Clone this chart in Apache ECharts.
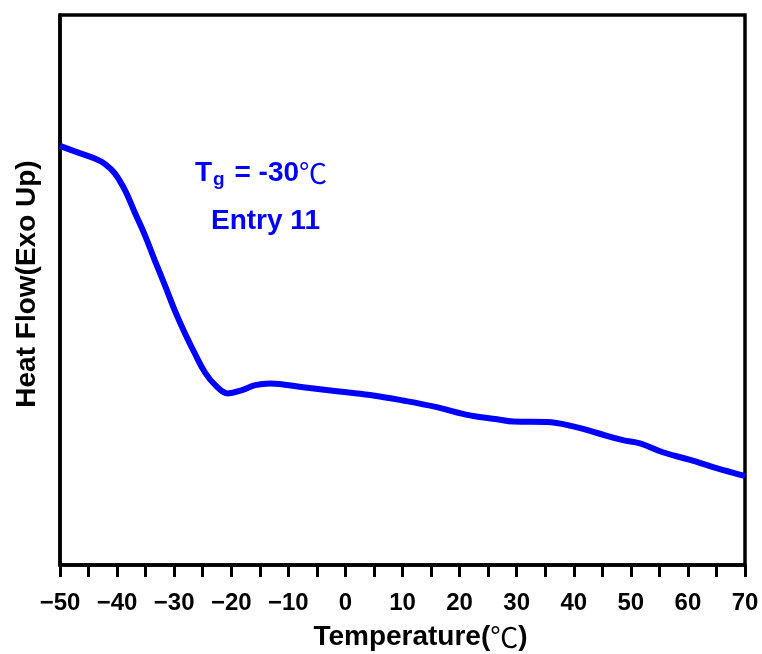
<!DOCTYPE html>
<html>
<head>
<meta charset="utf-8">
<script src="https://cdn.jsdelivr.net/npm/echarts@6/dist/echarts.min.js"></script>
<style>html,body{margin:0;padding:0;background:#fff}#c{width:762px;height:654px}</style>
</head>
<body>
<div id="c"></div>
<script>
const temperature = [-50, -47.4, -43.9, -42.1, -40.4, -38.6, -36.9, -35.1, -33.4, -31.6, -29.9, -28.1, -26.4, -24.6, -22.8, -20.6, -18.1, -15.8, -13.2, -7.4, -1.5, 4.3, 10.1, 16.0, 21.8, 26.6, 29.4, 35.3, 39.9, 44.1, 48.6, 51.6, 55.6, 60.4, 64.4, 69.6, 70];
const heatFlow = [76.2, 75.2, 73.9, 72.9, 71.2, 68.1, 64.1, 59.9, 55.4, 50.8, 46.3, 42.1, 38.5, 35.0, 32.7, 31.2, 31.8, 32.7, 33.0, 32.3, 31.6, 30.9, 29.9, 28.7, 27.2, 26.5, 26.1, 26.0, 25.2, 24.0, 22.7, 22.1, 20.5, 19.1, 17.8, 16.3, 16.2];
const xTicks = [-50, -40, -30, -20, -10, 0, 10, 20, 30, 40, 50, 60, 70];

const chart = echarts.init(document.getElementById('c'));
const font = '"Liberation Sans", Arial, sans-serif';
chart.setOption({
  animation: false,
  grid: { left: 60, right: 17, top: 15, bottom: 89, containLabel: false, outerBoundsMode: 'none',
          show: true, borderColor: '#000', borderWidth: 3.5, backgroundColor: 'transparent' },
  xAxis: {
    type: 'value', min: -50, max: 70, interval: 10, position: 'bottom',
    axisLine: { show: true, onZero: false, lineStyle: { color: '#000', width: 3.5 } },
    axisTick: { show: true, inside: false, length: 12, lineStyle: { color: '#000', width: 3 } },
    minorTick: { show: true, splitNumber: 2, length: 12, lineStyle: { color: '#000', width: 3 } },
    splitLine: { show: false },
    axisLabel: {
      margin: 26, color: '#000', fontSize: 24, fontWeight: 'bold', fontFamily: font,
      formatter: v => xTicks.includes(v) ? (v < 0 ? '\u2212' + Math.abs(v) : String(v)) : ''
    },
    name: '{b|Temperature(}{n|℃}{b|)}',
    nameLocation: 'middle', nameGap: 58,
    nameTextStyle: {
      padding: [0, 0, 0, 36],
      rich: {
        b: { fontSize: 28, fontWeight: 'bold', fontFamily: font, color: '#000' },
        n: { fontSize: 28, fontWeight: 'normal', fontFamily: '"Noto Sans CJK SC", sans-serif', color: '#000' }
      }
    }
  },
  yAxis: {
    type: 'value', min: 0, max: 100, position: 'left',
    axisLine: { show: true, onZero: false, lineStyle: { color: '#000', width: 3.5 } },
    axisTick: { show: false }, axisLabel: { show: false }, splitLine: { show: false },
    name: 'Heat Flow(Exo Up)', nameLocation: 'middle', nameGap: 19, nameRotate: 90,
    nameTextStyle: { fontSize: 28, fontWeight: 'bold', fontFamily: font, color: '#000', padding: [0, 0, 0, 12] }
  },
  series: [{
    type: 'line', smooth: 0.4, symbol: 'none',
    data: temperature.map((t, i) => [t, heatFlow[i]]),
    lineStyle: { color: '#0000ff', width: 6 }
  }],
  graphic: [
    {
      type: 'text', left: 195, top: 159,
      style: {
        text: '{b|T}{s|g}{b| = -30}{n|℃}',
        rich: {
          b: { fontSize: 28, fontWeight: 'bold', fontFamily: font, fill: '#0000ff' },
          s: { fontSize: 19, fontWeight: 'bold', fontFamily: font, fill: '#0000ff', padding: [14, 2, 0, 1] },
          n: { fontSize: 28, fontWeight: 'normal', fontFamily: '"Noto Sans CJK SC", sans-serif', fill: '#0000ff' }
        }
      }
    },
    {
      type: 'text', left: 211, top: 207,
      style: { text: 'Entry 11', fontSize: 28, fontWeight: 'bold', fontFamily: font, fill: '#0000ff' }
    }
  ]
});
</script>
</body>
</html>
